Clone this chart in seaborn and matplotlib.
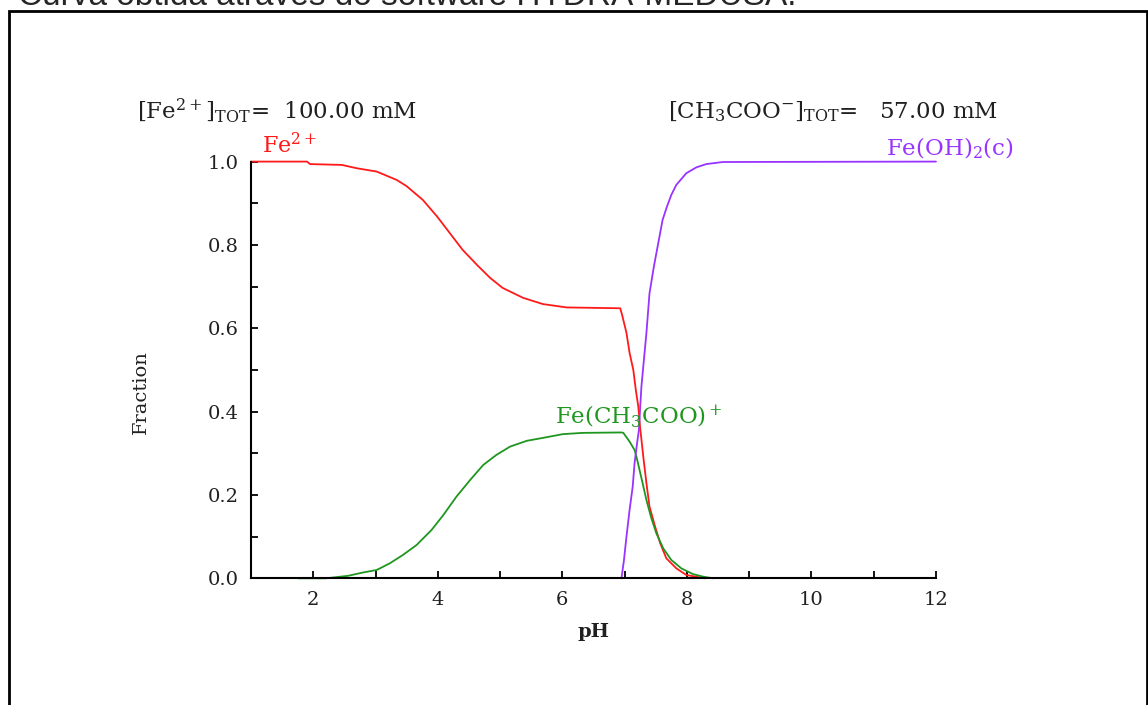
import matplotlib
matplotlib.use('Agg')
import matplotlib.pyplot as plt
import seaborn as sns
import pandas as pd
from matplotlib.patches import Rectangle
from matplotlib.ticker import MultipleLocator

# pH / fraction values
ph_fe = [1.0, 1.9, 1.95, 2.46, 2.70, 3.02, 3.34, 3.50, 3.76, 3.99, 4.19, 4.40, 4.63,
         4.84, 5.04, 5.37, 5.69, 6.07, 6.50, 6.93, 6.96, 7.03, 7.08, 7.14, 7.18, 7.22,
         7.25, 7.28, 7.30, 7.35, 7.40, 7.49, 7.57, 7.67, 7.83, 7.99, 8.21, 8.29]
fe = [1.0, 1.0, 0.994, 0.992, 0.984, 0.976, 0.956, 0.941, 0.908, 0.868, 0.829, 0.788, 0.752,
      0.721, 0.697, 0.673, 0.658, 0.650, 0.649, 0.648, 0.632, 0.589, 0.541, 0.500, 0.452, 0.412,
      0.360, 0.320, 0.292, 0.229, 0.172, 0.124, 0.085, 0.048, 0.024, 0.008, 0.002, 0.0]

ph_ac = [1.76, 2.20, 2.56, 2.80, 3.02, 3.23, 3.44, 3.66, 3.90, 4.09, 4.30, 4.52, 4.73, 4.94,
         5.16, 5.43, 5.69, 6.01, 6.33, 6.95, 6.98, 7.08, 7.16, 7.19, 7.24, 7.29, 7.35, 7.43,
         7.51, 7.62, 7.75, 7.91, 8.10, 8.26, 8.42]
ac = [0.0, 0.0, 0.006, 0.014, 0.020, 0.036, 0.056, 0.080, 0.116, 0.152, 0.196, 0.236, 0.272, 0.296,
      0.316, 0.330, 0.337, 0.346, 0.349, 0.350, 0.349, 0.328, 0.308, 0.292, 0.260, 0.228, 0.188, 0.144,
      0.108, 0.072, 0.044, 0.024, 0.010, 0.004, 0.0]

ph_oh = [6.95, 6.99, 7.03, 7.08, 7.13, 7.16, 7.20, 7.23, 7.25, 7.27, 7.31, 7.35, 7.40, 7.47,
         7.54, 7.61, 7.68, 7.75, 7.83, 7.99, 8.15, 8.31, 8.58, 12.0]
oh = [0.0, 0.044, 0.100, 0.164, 0.220, 0.276, 0.324, 0.356, 0.410, 0.460, 0.524, 0.588, 0.684, 0.748,
      0.804, 0.860, 0.892, 0.920, 0.944, 0.972, 0.986, 0.994, 0.999, 1.0]

sns.set_style('ticks')
plt.rcParams['font.family'] = ['DejaVu Serif']
plt.rcParams['mathtext.fontset'] = 'dejavuserif'

fig = plt.figure(figsize=(11.48, 7.05), dpi=100)
ax = fig.add_axes([0.2186, 0.1797, 0.5967, 0.5911])

red = '#ff1a1a'
green = '#1f961f'
purple = '#9933ff'

sns.lineplot(data=pd.DataFrame({'pH': ph_fe, 'frac': fe}), x='pH', y='frac',
             color=red, lw=1.3, ax=ax, clip_on=False)
sns.lineplot(data=pd.DataFrame({'pH': ph_ac, 'frac': ac}), x='pH', y='frac',
             color=green, lw=1.3, ax=ax, clip_on=False)
sns.lineplot(data=pd.DataFrame({'pH': ph_oh, 'frac': oh}), x='pH', y='frac',
             color=purple, lw=1.3, ax=ax, clip_on=False)

ax.set_xlim(1, 12)
ax.set_ylim(0, 1)
sns.despine(ax=ax)
for s in ['left', 'bottom']:
    ax.spines[s].set_linewidth(1.5)
    ax.spines[s].set_color('black')

ax.xaxis.set_major_locator(MultipleLocator(2))
ax.xaxis.set_minor_locator(MultipleLocator(1))
ax.yaxis.set_major_locator(MultipleLocator(0.2))
ax.yaxis.set_minor_locator(MultipleLocator(0.1))
ax.yaxis.set_major_formatter('{x:.1f}')
ax.tick_params(which='both', direction='in', length=5, width=1.3, color='black',
               labelsize=14, labelcolor='#202020')
ax.tick_params(axis='x', pad=9)
ax.tick_params(axis='y', pad=9)

ax.set_xlabel('pH', fontsize=14, color='#202020', labelpad=10, fontweight='bold')
ax.set_ylabel('Fraction', fontsize=14, color='#202020')
ax.yaxis.set_label_coords(-0.148, 0.448)

# header and species labels
ax.text(-0.83, 1.104, r'[Fe$^{2+}$]$_{\rm TOT}$=  100.00 mM', fontsize=16.5,
        color='#202020', va='baseline', clip_on=False)
ax.text(7.69, 1.104, r'[CH$_3$COO$^{-}$]$_{\rm TOT}$=   57.00 mM', fontsize=16.5,
        color='#202020', va='baseline', clip_on=False)
ax.text(1.18, 1.02, r'Fe$^{2+}$', fontsize=16, color=red, va='baseline', clip_on=False)
ax.text(11.20, 1.016, r'Fe(OH)$_2$(c)', fontsize=16.5, color=purple, va='baseline', clip_on=False)
ax.text(5.88, 0.372, r'Fe(CH$_3$COO)$^+$', fontsize=16.5, color=green, va='baseline', clip_on=False)

fig.text(18 / 1148, 1 - 5 / 705, 'Curva obtida através do software HYDRA-MEDUSA.',
         family=['Liberation Sans'], fontsize=24, va='baseline')
fig.add_artist(Rectangle((8.5 / 1148, -0.05), 1138 / 1148, 1.05 - 11 / 705,
                         transform=fig.transFigure, fill=False, lw=2, ec='black'))

fig.savefig('out.png', dpi=100)
